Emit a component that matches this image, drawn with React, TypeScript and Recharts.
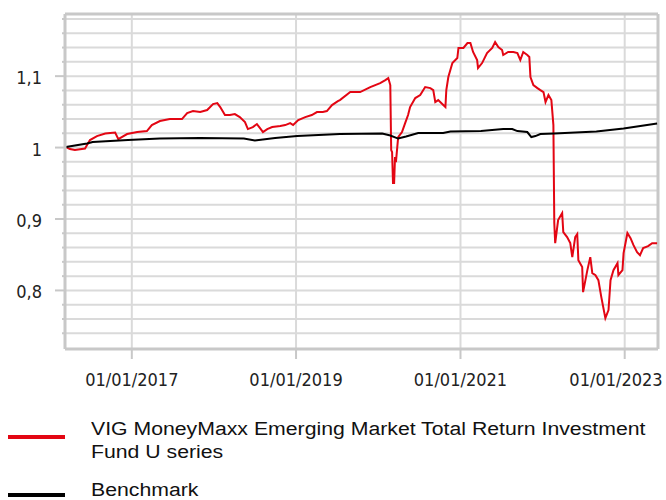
import React from "react";
import { LineChart, Line, XAxis, YAxis, CartesianGrid, ReferenceLine } from "recharts";

const fundDates = [
  "2016-03-14", "2016-04-01", "2016-04-23", "2016-06-07", "2016-06-16", "2016-06-29", "2016-07-30",
  "2016-09-05", "2016-09-27", "2016-10-19", "2016-11-02", "2016-12-11", "2017-01-25", "2017-03-09",
  "2017-03-31", "2017-05-06", "2017-06-19", "2017-08-12", "2017-09-04", "2017-09-30", "2017-11-01",
  "2017-12-02", "2017-12-28", "2018-01-16", "2018-01-29", "2018-02-19", "2018-03-13", "2018-04-04",
  "2018-04-26", "2018-05-19", "2018-06-01", "2018-06-23", "2018-07-11", "2018-07-25", "2018-08-07",
  "2018-08-26", "2018-09-17", "2018-10-23", "2018-11-14", "2018-12-06", "2018-12-19", "2019-01-11",
  "2019-02-11", "2019-03-12", "2019-04-04", "2019-04-30", "2019-05-18", "2019-06-10", "2019-07-06",
  "2019-07-15", "2019-08-30", "2019-10-13", "2019-11-27", "2020-01-10", "2020-02-02", "2020-02-15",
  "2020-02-24", "2020-02-28", "2020-03-03", "2020-03-07", "2020-03-12", "2020-03-16", "2020-03-20",
  "2020-03-30", "2020-04-16", "2020-04-30", "2020-05-13", "2020-05-22", "2020-06-14", "2020-07-06",
  "2020-07-28", "2020-08-20", "2020-09-02", "2020-09-11", "2020-09-24", "2020-10-12", "2020-10-26",
  "2020-10-30", "2020-11-08", "2020-11-26", "2020-12-18", "2020-12-23", "2021-01-14", "2021-02-01",
  "2021-02-14", "2021-02-26", "2021-03-16", "2021-03-20", "2021-04-07", "2021-04-29", "2021-05-22",
  "2021-06-04", "2021-06-18", "2021-07-05", "2021-07-10", "2021-08-01", "2021-08-24", "2021-09-11",
  "2021-09-24", "2021-10-07", "2021-10-25", "2021-11-03", "2021-11-08", "2021-11-21", "2021-12-09",
  "2021-12-22", "2022-01-05", "2022-01-14", "2022-01-27", "2022-02-09", "2022-02-18", "2022-02-22",
  "2022-02-26", "2022-03-11", "2022-03-29", "2022-04-03", "2022-04-20", "2022-05-04", "2022-05-13",
  "2022-05-26", "2022-06-04", "2022-06-09", "2022-06-26", "2022-06-30", "2022-07-19", "2022-08-01",
  "2022-08-10", "2022-08-24", "2022-09-06", "2022-09-19", "2022-10-07", "2022-10-21", "2022-10-30",
  "2022-11-12", "2022-11-30", "2022-12-04", "2022-12-22", "2022-12-27", "2023-01-13", "2023-01-27",
  "2023-02-09", "2023-02-25", "2023-03-10", "2023-03-24", "2023-04-15", "2023-05-03", "2023-05-25",
];
const fundValues = [
  1.0007, 0.9979, 0.9965, 0.9986, 1.0035, 1.0105, 1.0161,
  1.0196, 1.0203, 1.021, 1.0119, 1.0189, 1.0217, 1.0231,
  1.0315, 1.0371, 1.0399, 1.0399, 1.0483, 1.0511, 1.0497,
  1.0525, 1.0609, 1.0623, 1.0567, 1.0455, 1.0455, 1.0469,
  1.0427, 1.0357, 1.0259, 1.0287, 1.0329, 1.0273, 1.0217,
  1.0259, 1.0287, 1.0301, 1.0315, 1.0343, 1.0315, 1.0385,
  1.0427, 1.0455, 1.0497, 1.0497, 1.0511, 1.0595, 1.0651,
  1.0665, 1.0777, 1.0777, 1.0847, 1.0903, 1.0945, 1.0973,
  1.0875, 0.9965, 0.9937, 0.9503, 0.9503, 0.9867, 0.9797,
  1.0147, 1.0217, 1.0343, 1.0455, 1.0567, 1.0693, 1.0735,
  1.0847, 1.0833, 1.0805, 1.0637, 1.0665, 1.0609, 1.0567,
  1.0805, 1.0987, 1.1183, 1.1254, 1.1394, 1.1394, 1.1464,
  1.1464, 1.1338, 1.1225, 1.1113, 1.1183, 1.1324, 1.1394,
  1.1478, 1.1408, 1.1366, 1.1296, 1.1338, 1.1338, 1.1324,
  1.1225, 1.1338, 1.1296, 1.1268, 1.0987, 1.0875, 1.0833,
  1.0805, 1.0777, 1.0637, 1.0735, 1.0665, 1.0315, 0.8943,
  0.8662, 0.8985, 0.9083, 0.8817, 0.8746, 0.8662, 0.8466,
  0.8746, 0.8789, 0.8424, 0.8326, 0.7976, 0.8284, 0.8466,
  0.8242, 0.8214, 0.8144, 0.7906, 0.7612, 0.7724, 0.8144,
  0.8284, 0.8382, 0.8214, 0.8284, 0.8522, 0.8803, 0.8732,
  0.8634, 0.8536, 0.8494, 0.8592, 0.862, 0.8662, 0.8662,
];

const benchDates = [
  "2016-03-14", "2016-06-16", "2016-07-11", "2016-12-15", "2017-05-06", "2017-11-01", "2018-05-14",
  "2018-07-02", "2018-09-30", "2019-01-06", "2019-07-15", "2020-01-19", "2020-02-24", "2020-03-30",
  "2020-05-04", "2020-06-27", "2020-10-16", "2020-11-17", "2021-04-02", "2021-07-10", "2021-08-19",
  "2021-09-11", "2021-10-25", "2021-11-12", "2021-11-30", "2021-12-22", "2022-02-22", "2022-08-28",
  "2022-12-27", "2023-05-25",
];
const benchValues = [
  1.0007, 1.0056, 1.0077, 1.0105, 1.0126, 1.0133, 1.0126,
  1.0098, 1.0133, 1.0161, 1.0189, 1.0196, 1.0168, 1.0126,
  1.0154, 1.0203, 1.0203, 1.0224, 1.0231, 1.0259, 1.0259,
  1.0231, 1.0217, 1.0147, 1.0161, 1.0189, 1.0196, 1.0224,
  1.0266, 1.0336,
];

const xTickDates = ["2017-01-01", "2019-01-01", "2021-01-01", "2023-01-01"];
const yTicks = [
  0.74, 0.76, 0.78, 0.8, 0.82, 0.84, 0.86, 0.88, 0.9, 0.92, 0.94, 0.96,
  0.98, 1, 1.02, 1.04, 1.06, 1.08, 1.1, 1.12, 1.14, 1.16, 1.18,
];

const fundName = "VIG MoneyMaxx Emerging Market Total Return Investment Fund U series";
const benchName = "Benchmark";

const fundData = fundDates.map((d, i) => ({ t: Date.parse(d), v: fundValues[i] }));
const benchData = benchDates.map((d, i) => ({ t: Date.parse(d), v: benchValues[i] }));

const xMin = Date.parse("2016-03-10");
const xMax = Date.parse("2023-05-29");
const yMin = 0.718;
const yMax = 1.187;

const axisFont = "'DejaVu Sans Condensed', 'DejaVu Sans', sans-serif";
const gray = "#c8c8c8";

function fmtDate(t: number) {
  const d = new Date(t);
  const dd = String(d.getUTCDate()).padStart(2, "0");
  const mm = String(d.getUTCMonth() + 1).padStart(2, "0");
  return `${dd}/${mm}/${d.getUTCFullYear()}`;
}

function YTick(props: any) {
  const { x, y, payload } = props;
  const v = payload.value;
  const major = Math.abs(v * 10 - Math.round(v * 10)) < 1e-6;
  return (
    <g>
      <line x1={x - (major ? 10 : 3)} x2={x} y1={y} y2={y} stroke={gray} strokeWidth={2} />
      {major && (
        <text x={x - 23} y={y} dy={8} textAnchor="end" fontFamily={axisFont} fontSize={18} fill="#222">
          {String(Math.round(v * 10) / 10).replace(".", ",")}
        </text>
      )}
    </g>
  );
}

// last label is pushed left so it stays inside the picture
function XTick(props: any) {
  const { x, y, payload } = props;
  const cx = Math.min(x, 616);
  return (
    <text x={cx} y={y} dy={13} textAnchor="middle" fontFamily={axisFont} fontSize={18} fill="#222">
      {fmtDate(payload.value)}
    </text>
  );
}

export default function App() {
  return (
    <div style={{ position: "relative", width: 666, height: 500, background: "#fff" }}>
      <style>{"body{margin:0}"}</style>
      <LineChart width={666} height={400} margin={{ top: 14, right: 8, left: 0, bottom: 0 }}>
        <CartesianGrid stroke="#dadada" strokeWidth={2} />
        <XAxis
          type="number"
          dataKey="t"
          domain={[xMin, xMax]}
          allowDataOverflow
          ticks={xTickDates.map((d) => Date.parse(d))}
          interval={0}
          height={51}
          tickSize={10}
          tickMargin={14}
          axisLine={{ stroke: gray, strokeWidth: 3 }}
          tickLine={{ stroke: gray, strokeWidth: 2 }}
          tick={<XTick />}
        />
        <YAxis
          type="number"
          domain={[yMin, yMax]}
          allowDataOverflow
          ticks={yTicks}
          interval={0}
          width={65}
          tickSize={0}
          tickMargin={0}
          tickLine={false}
          axisLine={{ stroke: gray, strokeWidth: 3 }}
          tick={<YTick />}
        />
        <ReferenceLine y={yMax} stroke={gray} strokeWidth={3} />
        <ReferenceLine x={xMax} stroke={gray} strokeWidth={3} />
        <Line
          data={fundData}
          dataKey="v"
          name={fundName}
          type="linear"
          stroke="#e30613"
          strokeWidth={2}
          dot={false}
          isAnimationActive={false}
        />
        <Line
          data={benchData}
          dataKey="v"
          name={benchName}
          type="linear"
          stroke="#000"
          strokeWidth={2}
          dot={false}
          isAnimationActive={false}
        />
      </LineChart>
      <div style={{ position: "absolute", left: 8, top: 435, width: 57, height: 4, background: "#e30613" }} />
      <div style={{ position: "absolute", left: 8, top: 493, width: 57, height: 4, background: "#000" }} />
      <div
        style={{
          position: "absolute",
          left: 91,
          top: 418,
          fontFamily: "'Liberation Sans', Arial, sans-serif",
          fontSize: 18,
          lineHeight: "23px",
          color: "#111",
          whiteSpace: "nowrap",
          transform: "scaleX(1.18)",
          transformOrigin: "left top",
        }}
      >
        VIG MoneyMaxx Emerging Market Total Return Investment
        <br />
        Fund U series
      </div>
      <div
        style={{
          position: "absolute",
          left: 91,
          top: 479,
          fontFamily: "'Liberation Sans', Arial, sans-serif",
          fontSize: 18,
          lineHeight: "23px",
          color: "#111",
          whiteSpace: "nowrap",
          transform: "scaleX(1.18)",
          transformOrigin: "left top",
        }}
      >
        {benchName}
      </div>
    </div>
  );
}
